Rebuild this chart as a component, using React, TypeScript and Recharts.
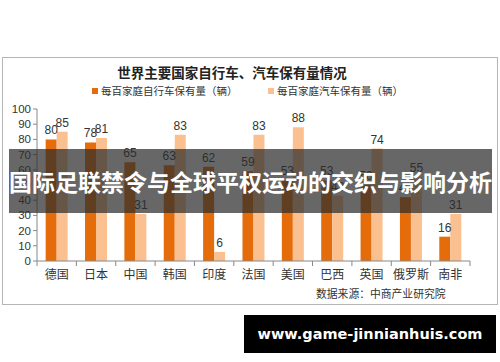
import { BarChart, Bar, XAxis, YAxis, LabelList } from "recharts";

const countries = ["德国", "日本", "中国", "韩国", "印度", "法国", "美国", "巴西", "英国", "俄罗斯", "南非"];
const bikes = [80, 78, 65, 63, 62, 59, 53, 53, 50, 42, 16];
const cars = [85, 81, 31, 83, 6, 83, 88, 43, 74, 55, 31];
const yTicks = [0, 10, 20, 30, 40, 50, 60, 70, 80, 90, 100];

const data = countries.map((name, i) => ({ name, bike: bikes[i], car: cars[i] }));

const W = 500;
const H = 362;
const plotLeft = 37;
const plotRight = 470;
const band = (plotRight - plotLeft) / countries.length;

const CJK = '"Noto Sans CJK SC", "Noto Sans", sans-serif';
const LAT = "Liberation Sans, Arial, sans-serif";

const CategoryTick = ({ x, y, payload, index }: any) => (
  <g>
    <line x1={x - band / 2} y1={y - 8} x2={x - band / 2} y2={y - 3} stroke="#888" />
    {index === countries.length - 1 && (
      <line x1={x + band / 2} y1={y - 8} x2={x + band / 2} y2={y - 3} stroke="#888" />
    )}
    <text x={x} y={y + 10} textAnchor="middle" fontSize={12} fill="#333" fontFamily={CJK}>
      {payload.value}
    </text>
  </g>
);

export default function App() {
  return (
    <div style={{ position: "absolute", left: 0, top: 0, width: W, height: H, background: "#fff", overflow: "hidden" }}>
      {/* chart frame */}
      <div style={{ position: "absolute", left: 2, top: 57, width: 494, height: 246, border: "1px solid #b5b5b5", background: "#fff" }} />

      <div style={{ position: "absolute", left: 0, top: 0 }}>
        <BarChart
          width={W}
          height={H}
          data={data}
          barCategoryGap="22%"
          barGap={0}
          margin={{ top: 109, left: 7, right: W - plotRight, bottom: 71 }}
        >
          <XAxis
            dataKey="name"
            height={30}
            axisLine={{ stroke: "#888" }}
            tickLine={false}
            tick={<CategoryTick />}
            interval={0}
          />
          <YAxis
            width={30}
            domain={[0, 100]}
            ticks={yTicks}
            interval={0}
            axisLine={{ stroke: "#888" }}
            tickLine={{ stroke: "#888" }}
            tickSize={4}
            tick={{ fontSize: 11.5, fill: "#333", fontFamily: LAT }}
          />
          <Bar dataKey="bike" fill="#E46C0A" isAnimationActive={false}>
            <LabelList dataKey="bike" position="top" offset={5} fontSize={12} fill="#333" fontFamily={LAT} />
          </Bar>
          <Bar dataKey="car" fill="#FAC090" isAnimationActive={false}>
            <LabelList dataKey="car" position="top" offset={5} fontSize={12} fill="#333" fontFamily={LAT} />
          </Bar>
        </BarChart>
      </div>

      {/* title and legend */}
      <div style={{ position: "absolute", left: 0, width: 464, top: 62, textAlign: "center", fontFamily: CJK, fontWeight: 700, fontSize: 13.5, color: "#222" }}>
        世界主要国家自行车、汽车保有量情况
      </div>
      <div style={{ position: "absolute", left: 92, top: 83, display: "flex", alignItems: "center", fontFamily: CJK, fontSize: 10.5, color: "#333" }}>
        <span style={{ width: 6, height: 6, background: "#E46C0A", marginRight: 3, display: "inline-block" }} />
        每百家庭自行车保有量（辆）
      </div>
      <div style={{ position: "absolute", left: 268, top: 83, display: "flex", alignItems: "center", fontFamily: CJK, fontSize: 10.5, color: "#333" }}>
        <span style={{ width: 6, height: 6, background: "#FAC090", marginRight: 3, display: "inline-block" }} />
        每百家庭汽车保有量（辆）
      </div>

      {/* source */}
      <div style={{ position: "absolute", left: 316, top: 285, fontFamily: CJK, fontSize: 10.8, color: "#333" }}>
        数据来源：中商产业研究院
      </div>

      {/* overlay banner */}
      <div
        style={{
          position: "absolute", left: 9, top: 149, width: 483, height: 64,
          background: "rgba(45,45,45,0.72)", display: "flex", alignItems: "center", justifyContent: "center",
          fontFamily: CJK, fontWeight: 700, fontSize: 23, color: "#fff", whiteSpace: "nowrap",
        }}
      >
        国际足联禁令与全球平权运动的交织与影响分析
      </div>

      {/* site badge */}
      <div
        style={{
          position: "absolute", left: 244, top: 315, width: 252, height: 38, background: "#000",
          display: "flex", alignItems: "center", justifyContent: "center",
          fontFamily: "DejaVu Sans, sans-serif", fontWeight: 700, fontSize: 14.5, color: "#fff", whiteSpace: "nowrap",
        }}
      >
        www.game-jinnianhuis.com
      </div>
    </div>
  );
}
